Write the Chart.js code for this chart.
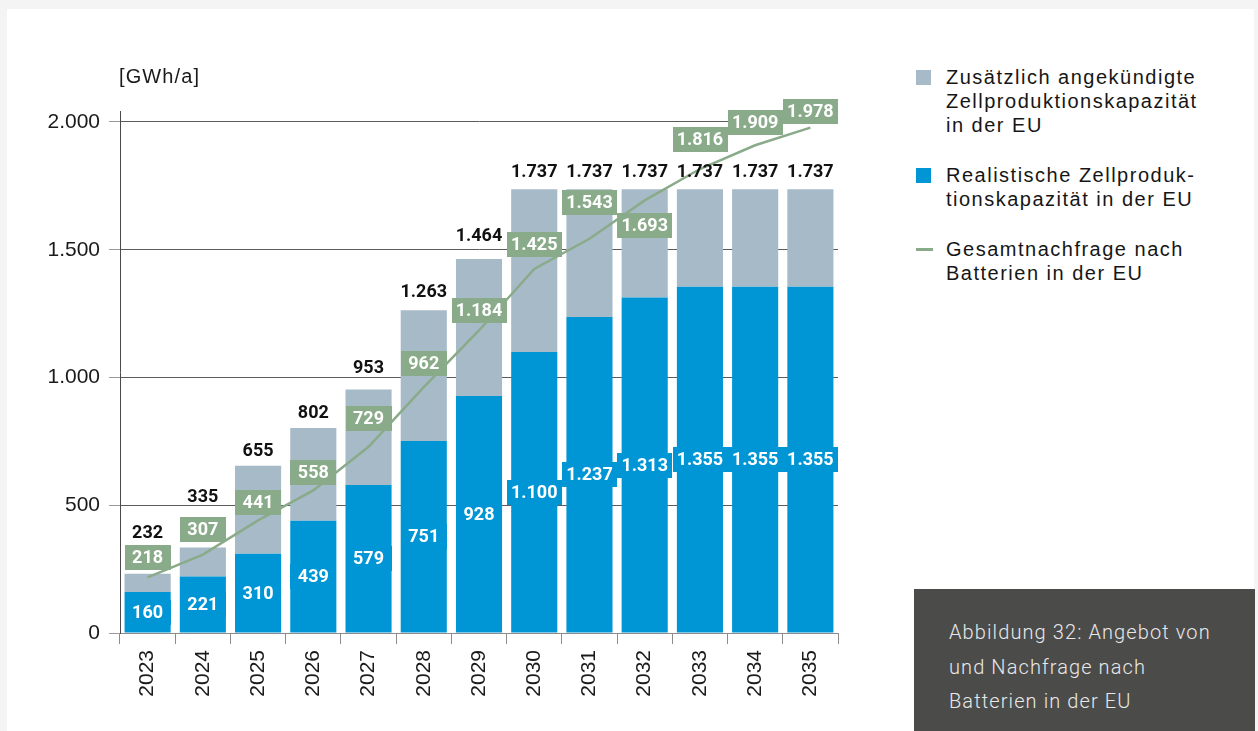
<!DOCTYPE html>
<html lang="de">
<head>
<meta charset="utf-8">
<title>Angebot und Nachfrage Batterien EU</title>
<script src="https://cdn.jsdelivr.net/npm/chart.js@4.4.1/dist/chart.umd.min.js"></script>
<style>
  html, body { margin: 0; padding: 0; background: #f4f4f4; }
  body { width: 1258px; height: 731px; position: relative; overflow: hidden; font-family: "Liberation Sans", Arial, sans-serif; }
  #card { position: absolute; left: 7px; top: 9px; width: 1247px; height: 740px; background: #fff; }
  #chartBox { position: absolute; left: 0; top: 0; width: 858px; height: 731px; }
  #legend { position: absolute; left: 916px; top: 65px; color: #161616; font-size: 20px; line-height: 24px; letter-spacing: 1.5px; }
  .item { position: relative; padding-left: 30px; margin-bottom: 26px; white-space: pre-line; }
  .swatch { position: absolute; left: 0; top: 5px; width: 15px; height: 15px; }
  .stroke { position: absolute; left: 0; top: 11px; width: 17px; height: 3px; }
  #caption { position: absolute; left: 914px; top: 589px; width: 306px; height: 150px; padding: 26px 0 0 35px; background: #4b4b4a;
             color: #e8e8e8; font-family: Roboto, sans-serif; font-weight: 300; font-size: 20px; line-height: 34.5px; letter-spacing: 1.1px; }
</style>
</head>
<body>
<div id="card"></div>
<div id="chartBox"><canvas id="supplyChart" width="858" height="731"></canvas></div>
<div id="legend"></div>
<div id="caption">Abbildung 32: Angebot von<br>und Nachfrage nach<br>Batterien in der EU</div>

<script>
const years = ["2023", "2024", "2025", "2026", "2027", "2028", "2029", "2030", "2031", "2032", "2033", "2034", "2035"];
const capacityTotal = [232, 335, 655, 802, 953, 1263, 1464, 1737, 1737, 1737, 1737, 1737, 1737];
const capacityRealistic = [160, 221, 310, 439, 579, 751, 928, 1100, 1237, 1313, 1355, 1355, 1355];
const demandTotal = [218, 307, 441, 558, 729, 962, 1184, 1425, 1543, 1693, 1816, 1909, 1978];
const yTicks = [0, 500, 1000, 1500, 2000];

const capacityAdditional = capacityTotal.map((t, i) => t - capacityRealistic[i]);

// how far (px) each label sits above its anchor; negative = below
const demandLabelLift = [20, 25, 18, 18, 28, 24, 20, 24, 36, -25, 30, 23, 16];
const totalLabelLift = [41, 51, 15, 16, 22, 19, 23, 18, 18, 18, 18, 18, 18];

const BLUE = "#0096d6";
const GREY = "#a6bac7";
const GREEN = "#8aab89";

const fmt = n => String(n).replace(/\B(?=(\d{3})+(?!\d))/g, ".");

function labelBox(ctx, x, y, text, fill) {
    const w = Math.max(ctx.measureText(text).width + 8, 46);
    ctx.fillStyle = fill;
    ctx.fillRect(Math.round(x - w / 2), Math.round(y - 12.5), Math.round(w), 25);
    ctx.fillStyle = "#fff";
    ctx.fillText(text, x, y + 1);
}

const valueLabels = {
    id: "valueLabels",
    afterDatasetsDraw(chart) {
        const ctx = chart.ctx;
        const yScale = chart.scales.y;
        const blueBars = chart.getDatasetMeta(0).data;
        const points = chart.getDatasetMeta(2).data;

        ctx.save();
        ctx.font = "bold 18px Roboto, 'Liberation Sans', sans-serif";
        ctx.textAlign = "center";
        ctx.textBaseline = "middle";

        blueBars.forEach((bar, i) => {
            labelBox(ctx, bar.x, (bar.y + bar.base) / 2, fmt(capacityRealistic[i]), BLUE);
        });

        ctx.fillStyle = "#111";
        blueBars.forEach((bar, i) => {
            const top = yScale.getPixelForValue(capacityTotal[i]);
            ctx.fillText(fmt(capacityTotal[i]), bar.x, top - totalLabelLift[i] + 1);
        });

        points.forEach((pt, i) => {
            labelBox(ctx, pt.x, pt.y - demandLabelLift[i], fmt(demandTotal[i]), GREEN);
        });
        ctx.restore();
    }
};

const unitLabel = {
    id: "unitLabel",
    afterDraw(chart) {
        const ctx = chart.ctx;
        ctx.save();
        ctx.font = "20px 'Liberation Sans', sans-serif";
        ctx.letterSpacing = "1.1px";
        ctx.fillStyle = "#1a1a1a";
        ctx.textBaseline = "middle";
        ctx.fillText("[GWh/a]", chart.chartArea.left - 1, chart.chartArea.top - 34);
        ctx.restore();
    }
};

const chart = new Chart(document.getElementById("supplyChart").getContext("2d"), {
    data: {
        labels: years,
        datasets: [
            {
                type: "bar",
                label: "Realistische Zellproduk-\ntionskapazität in der EU",
                data: capacityRealistic,
                backgroundColor: BLUE,
                stack: "capacity",
                order: 2,
                barPercentage: 0.835,
                categoryPercentage: 1
            },
            {
                type: "bar",
                label: "Zusätzlich angekündigte\nZellproduktionskapazität\nin der EU",
                data: capacityAdditional,
                backgroundColor: GREY,
                stack: "capacity",
                order: 2,
                barPercentage: 0.835,
                categoryPercentage: 1
            },
            {
                type: "line",
                label: "Gesamtnachfrage nach\nBatterien in der EU",
                data: demandTotal,
                borderColor: GREEN,
                borderWidth: 2.5,
                pointRadius: 0,
                tension: 0,
                stack: "demand",
                order: 1
            }
        ]
    },
    options: {
        responsive: false,
        animation: false,
        events: [],
        layout: { padding: { left: 0, top: 111, right: 20, bottom: 0 } },
        plugins: { legend: { display: false }, tooltip: { enabled: false } },
        scales: {
            x: {
                stacked: true,
                grid: { offset: true, drawOnChartArea: false, tickLength: 11, color: "#8c8c8c" },
                border: { display: true, color: "#8c8c8c" },
                ticks: {
                    minRotation: 90, maxRotation: 90, padding: 6,
                    color: "#1a1a1a",
                    font: { family: "'Liberation Sans', sans-serif", size: 21 }
                },
                afterFit(scale) { scale.height = 98; }
            },
            y: {
                stacked: true,
                min: 0,
                max: 2043,
                afterBuildTicks(scale) { scale.ticks = yTicks.map(v => ({ value: v })); },
                afterFit(scale) { scale.width = 120; },
                grid: { color: "#5c5c5c", tickColor: "#9a9a9a", tickLength: 11 },
                border: { display: true, color: "#4a4a4a" },
                ticks: {
                    padding: 9,
                    color: "#1a1a1a",
                    font: { family: "'Liberation Sans', sans-serif", size: 21 },
                    callback: v => fmt(v)
                }
            }
        }
    },
    plugins: [valueLabels, unitLabel]
});

// legend built from the chart's own datasets: grey, blue, line
const legend = document.getElementById("legend");
[1, 0, 2].forEach(idx => {
    const ds = chart.data.datasets[idx];
    const item = document.createElement("div");
    item.className = "item";
    const mark = document.createElement("span");
    if (ds.type === "line") {
        mark.className = "stroke";
        mark.style.background = ds.borderColor;
    } else {
        mark.className = "swatch";
        mark.style.background = ds.backgroundColor;
    }
    item.appendChild(mark);
    item.appendChild(document.createTextNode(ds.label));
    legend.appendChild(item);
});
</script>
</body>
</html>
